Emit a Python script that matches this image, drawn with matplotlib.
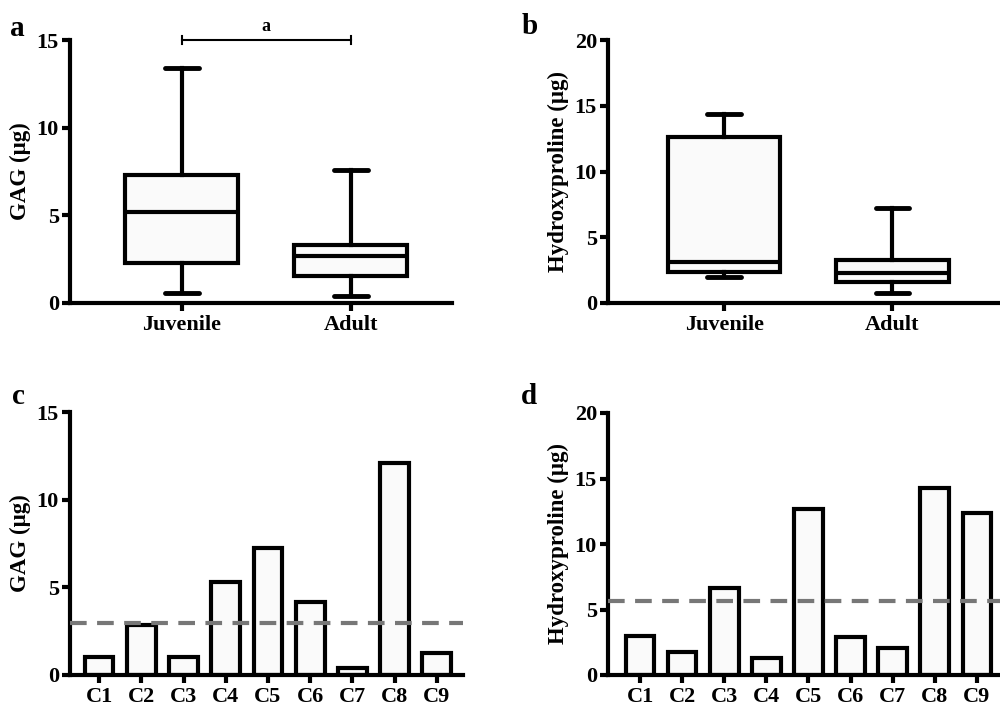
import matplotlib
matplotlib.use('Agg')
import matplotlib.pyplot as plt

plt.rcParams['font.family'] = ['Liberation Serif', 'DejaVu Serif']
plt.rcParams['font.weight'] = 'bold'

groups = ['Juvenile', 'Adult']
# box stats: whislo, q1, med, q3, whishi
gag_box = [[0.55, 2.3, 5.2, 7.3, 13.4],
           [0.42, 1.54, 2.7, 3.3, 7.6]]
hyp_box = [[2.0, 2.38, 3.14, 12.65, 14.4],
           [0.78, 1.62, 2.3, 3.3, 7.2]]

clones = ['C1', 'C2', 'C3', 'C4', 'C5', 'C6', 'C7', 'C8', 'C9']
gag_clone = [1.05, 2.86, 1.05, 5.33, 7.27, 4.19, 0.38, 12.1, 1.27]
hyp_clone = [2.98, 1.78, 6.63, 1.27, 12.67, 2.93, 2.04, 14.27, 12.36]
gag_ref = 2.98
hyp_ref = 5.68

W, H = 1000, 707
fig = plt.figure(figsize=(10, 7.07), dpi=100)

def px_axes(l, r, b, t):
    return fig.add_axes([l / W, 1 - b / H, (r - l) / W, (b - t) / H])

def style(ax, ymax, ystep, ylabel):
    for s in ['top', 'right']:
        ax.spines[s].set_visible(False)
    for s in ['left', 'bottom']:
        ax.spines[s].set_linewidth(3)
    ax.set_ylim(0, ymax)
    ax.set_yticks(range(0, ymax + 1, ystep))
    ax.tick_params(axis='both', width=3, length=6, labelsize=16, pad=2)
    ax.tick_params(axis='x', pad=3)
    ax.set_ylabel(ylabel, fontsize=16.5, fontweight='bold', labelpad=4)

def boxes(ax, data):
    stats = []
    for lab, v in zip(groups, data):
        stats.append(dict(label=lab, whislo=v[0], q1=v[1], med=v[2], q3=v[3], whishi=v[4]))
    lp = dict(color='black', linewidth=3)
    ax.bxp(stats, positions=[1, 2], widths=0.67, showfliers=False, patch_artist=True,
           boxprops=dict(facecolor='#fafafa', edgecolor='black', linewidth=3),
           medianprops=lp, whiskerprops=lp,
           capprops=dict(color='black', linewidth=3.5, solid_capstyle='round'),
           capwidths=0.2)

def bars(ax, vals, ref):
    x = range(1, len(vals) + 1)
    ax.bar(x, vals, width=0.68, color='#fafafa', edgecolor='black', linewidth=3)
    ax.axhline(ref, color='#777777', linewidth=3, linestyle=(0, (4, 2.5)), zorder=3)
    ax.set_xticks(list(x))
    ax.set_xticklabels(clones)

# a
ax = px_axes(70, 452, 303, 40)
boxes(ax, gag_box)
style(ax, 15, 5, 'GAG (μg)')
ax.set_xlim(0.337, 2.6)
ax.plot([1, 2], [15, 15], color='black', lw=1.5, clip_on=False)
ax.plot([1, 1], [14.75, 15.25], color='black', lw=1.5, clip_on=False)
ax.plot([2, 2], [14.75, 15.25], color='black', lw=1.5, clip_on=False)
ax.text(1.5, 15.3, 'a', ha='center', va='bottom', fontsize=13, fontweight='bold')
fig.text(10 / W, 1 - 28 / H, 'a', fontsize=21, fontweight='bold', va='center')

# b
ax = px_axes(608, 1000, 303, 40)
boxes(ax, hyp_box)
style(ax, 20, 5, 'Hydroxyproline (μg)')
ax.set_xlim(0.31, 2.64)
fig.text(522 / W, 1 - 26 / H, 'b', fontsize=21, fontweight='bold', va='center')

# c
ax = px_axes(70, 463, 675, 412)
bars(ax, gag_clone, gag_ref)
style(ax, 15, 5, 'GAG (μg)')
ax.set_xlim(0.31, 9.62)
fig.text(12 / W, 1 - 396 / H, 'c', fontsize=21, fontweight='bold', va='center')

# d
ax = px_axes(608, 1000, 675, 413)
bars(ax, hyp_clone, hyp_ref)
style(ax, 20, 5, 'Hydroxyproline (μg)')
ax.set_xlim(0.24, 9.55)
fig.text(521 / W, 1 - 396 / H, 'd', fontsize=21, fontweight='bold', va='center')

fig.savefig('out.png', dpi=100)
